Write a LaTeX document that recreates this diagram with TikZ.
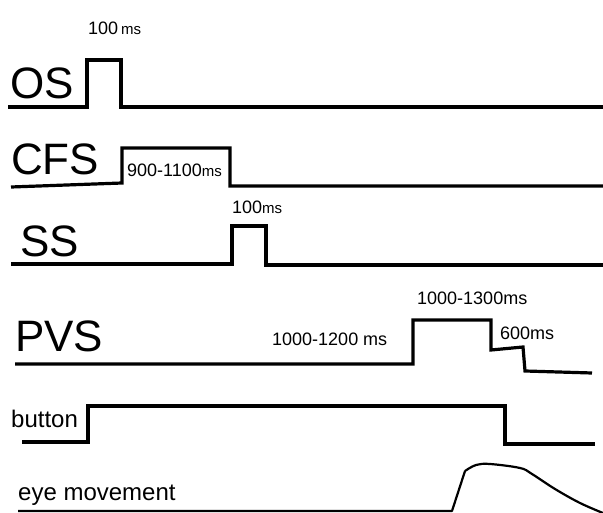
\documentclass[tikz,border=0pt]{standalone}
\usepackage{fontspec}
\setmainfont{Liberation Sans}
\usetikzlibrary{positioning}

\begin{document}
\begin{tikzpicture}[x=1pt, y=-1pt,
		signal/.style={black, line width=3.2pt, line join=miter},
		eye line/.style={black, line width=2.2pt, line join=round},
		big label/.style={anchor=base west, inner sep=0pt, font=\fontsize{44}{44}\selectfont},
		small label/.style={anchor=base west, inner sep=0pt, font=\fontsize{24}{24}\selectfont},
		time label/.style={anchor=base west, inner sep=0pt, font=\fontsize{18}{18}\selectfont}
		]
		\useasboundingbox (0,0) rectangle (603,513);
		
		\node[big label] (os) at (10,99) {OS};
		\node[time label] (os time) at (88,35) {100\,{\fontsize{15}{15}\selectfont ms}};
		\draw[signal] (8,107) -- (87,107) -- (87,60) -- (121,60) -- (121,107) -- (603,107);
		
		\node[big label] (cfs) at (11,175) {CFS};
		\node[time label] (cfs time) at (127,177) {900-1100{\fontsize{15}{15}\selectfont ms}};
		\draw[signal] (11,187) -- (122,183) -- (122,148) -- (230,148) -- (230,186) -- (603,186);
		
		\node[big label] (ss) at (20,257) {SS};
		\node[time label] (ss time) at (232,214) {100{\fontsize{15}{15}\selectfont ms}};
		\draw[signal] (11,264) -- (232,264) -- (232,226) -- (266,226) -- (266,265) -- (603,265);
		
		\node[big label] (pvs) at (15,352) {PVS};
		\node[time label] (pvs wait) at (272,345) {1000-1200 ms};
		\node[time label] (pvs long) at (417,305) {1000-1300ms};
		\node[time label] (pvs short) at (500,340) {600ms};
		\draw[signal] (15,364) -- (413,364) -- (413,320) -- (491,320) -- (491,350) -- (523,347) -- (525,371) -- (592,373);
		
		\node[small label] (button) at (11,427) {button};
		\draw[signal] (22,442) -- (88,442) -- (88,406) -- (505,406) -- (505,444) -- (595,444);
		
		\node[small label] (eye) at (18,500) {eye movement};
		\draw[eye line] (18,511) -- (452,511) -- (465,471)
			plot[smooth, tension=0.6] coordinates {(465,471) (476,465) (490,464) (520,468) (532,474) (555,489) (580,503) (603,513)};
	\end{tikzpicture}
\end{document}
